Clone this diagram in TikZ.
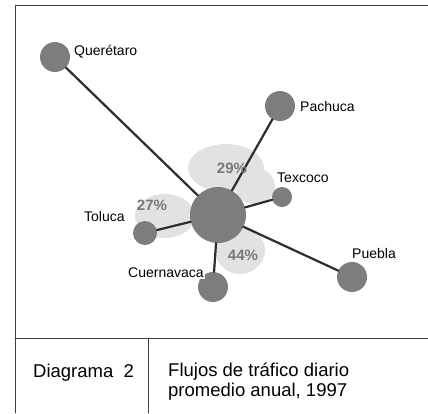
\documentclass[tikz,border=0pt]{standalone}
\usepackage{fontspec}
\setmainfont{Liberation Sans}
\usetikzlibrary{positioning}

\definecolor{citygrey}{RGB}{125,125,125}
\definecolor{blobgrey}{RGB}{226,226,226}
\definecolor{pctgrey}{RGB}{120,120,120}
\definecolor{roadgrey}{RGB}{45,45,45}

\tikzset{
  city/.style={circle,fill=citygrey,inner sep=0pt},
  place/.style={fill=white,inner sep=1pt,anchor=west,font=\fontsize{14}{16}\selectfont},
  share/.style={text=pctgrey,font=\bfseries\fontsize{15}{17}\selectfont},
  road/.style={roadgrey,line width=2.2pt},
  frame/.style={black!75,line width=0.9pt}
}

\begin{document}
\begin{tikzpicture}[x=1pt,y=-1pt,line cap=round,line join=round]
    \useasboundingbox (0,0) rectangle (428,413);

    % shaded shares
    \fill[blobgrey] (226,168) ellipse (38 and 24);
    \fill[blobgrey] (255,186) ellipse (20 and 18);
    \fill[blobgrey] (165,216) ellipse (30 and 22);
    \fill[blobgrey] (240,250) ellipse (25 and 24);

    % cities
    \node[city,minimum size=56pt] (cen) at (218,215) {};
    \node[city,minimum size=30pt] (que) at (55,57) {};
    \node[city,minimum size=30pt] (pac) at (280,106) {};
    \node[city,minimum size=20pt] (tex) at (282,197) {};
    \node[city,minimum size=24pt] (tol) at (145,233) {};
    \node[city,minimum size=30pt] (cue) at (213,287) {};
    \node[city,minimum size=30pt] (pue) at (352,277) {};

    % roads
    \foreach \c in {que,pac,tex,tol,cue,pue}
        \draw[road] (cen) -- (\c);

    % names
    \node[place] (lque) at (73,52) {Querétaro};
    \node[place] (lpac) at (299,106) {Pachuca};
    \node[place] (ltex) at (276,178) {Texcoco};
    \node[place] (ltol) at (83,216) {Toluca\hspace{5pt}};
    \node[place] (lpue) at (351,253) {Puebla\hspace{7pt}};
    \node[place] (lcue) at (127,273) {Cuernavaca};

    % shares
    \node[share] (p29) at (232,168) {29\%};
    \node[share] (p27) at (152,205) {27\%};
    \node[share] (p44) at (243,255) {44\%};

    % frame and caption
    \draw[frame] (15,413) -- (15,5) -- (428,5);
    \draw[frame] (15,338) -- (428,338);
    \draw[frame] (148,338) -- (148,413);

    \node[anchor=west,inner sep=0pt,font=\fontsize{18.5}{21}\selectfont] (dia) at (33,373) {Diagrama~~2};
    \node[anchor=north west,inner sep=0pt,align=left,font=\fontsize{18.5}{20}\selectfont] (cap) at (168,363)
        {Flujos de tráfico diario\\promedio anual, 1997};
\end{tikzpicture}
\end{document}
